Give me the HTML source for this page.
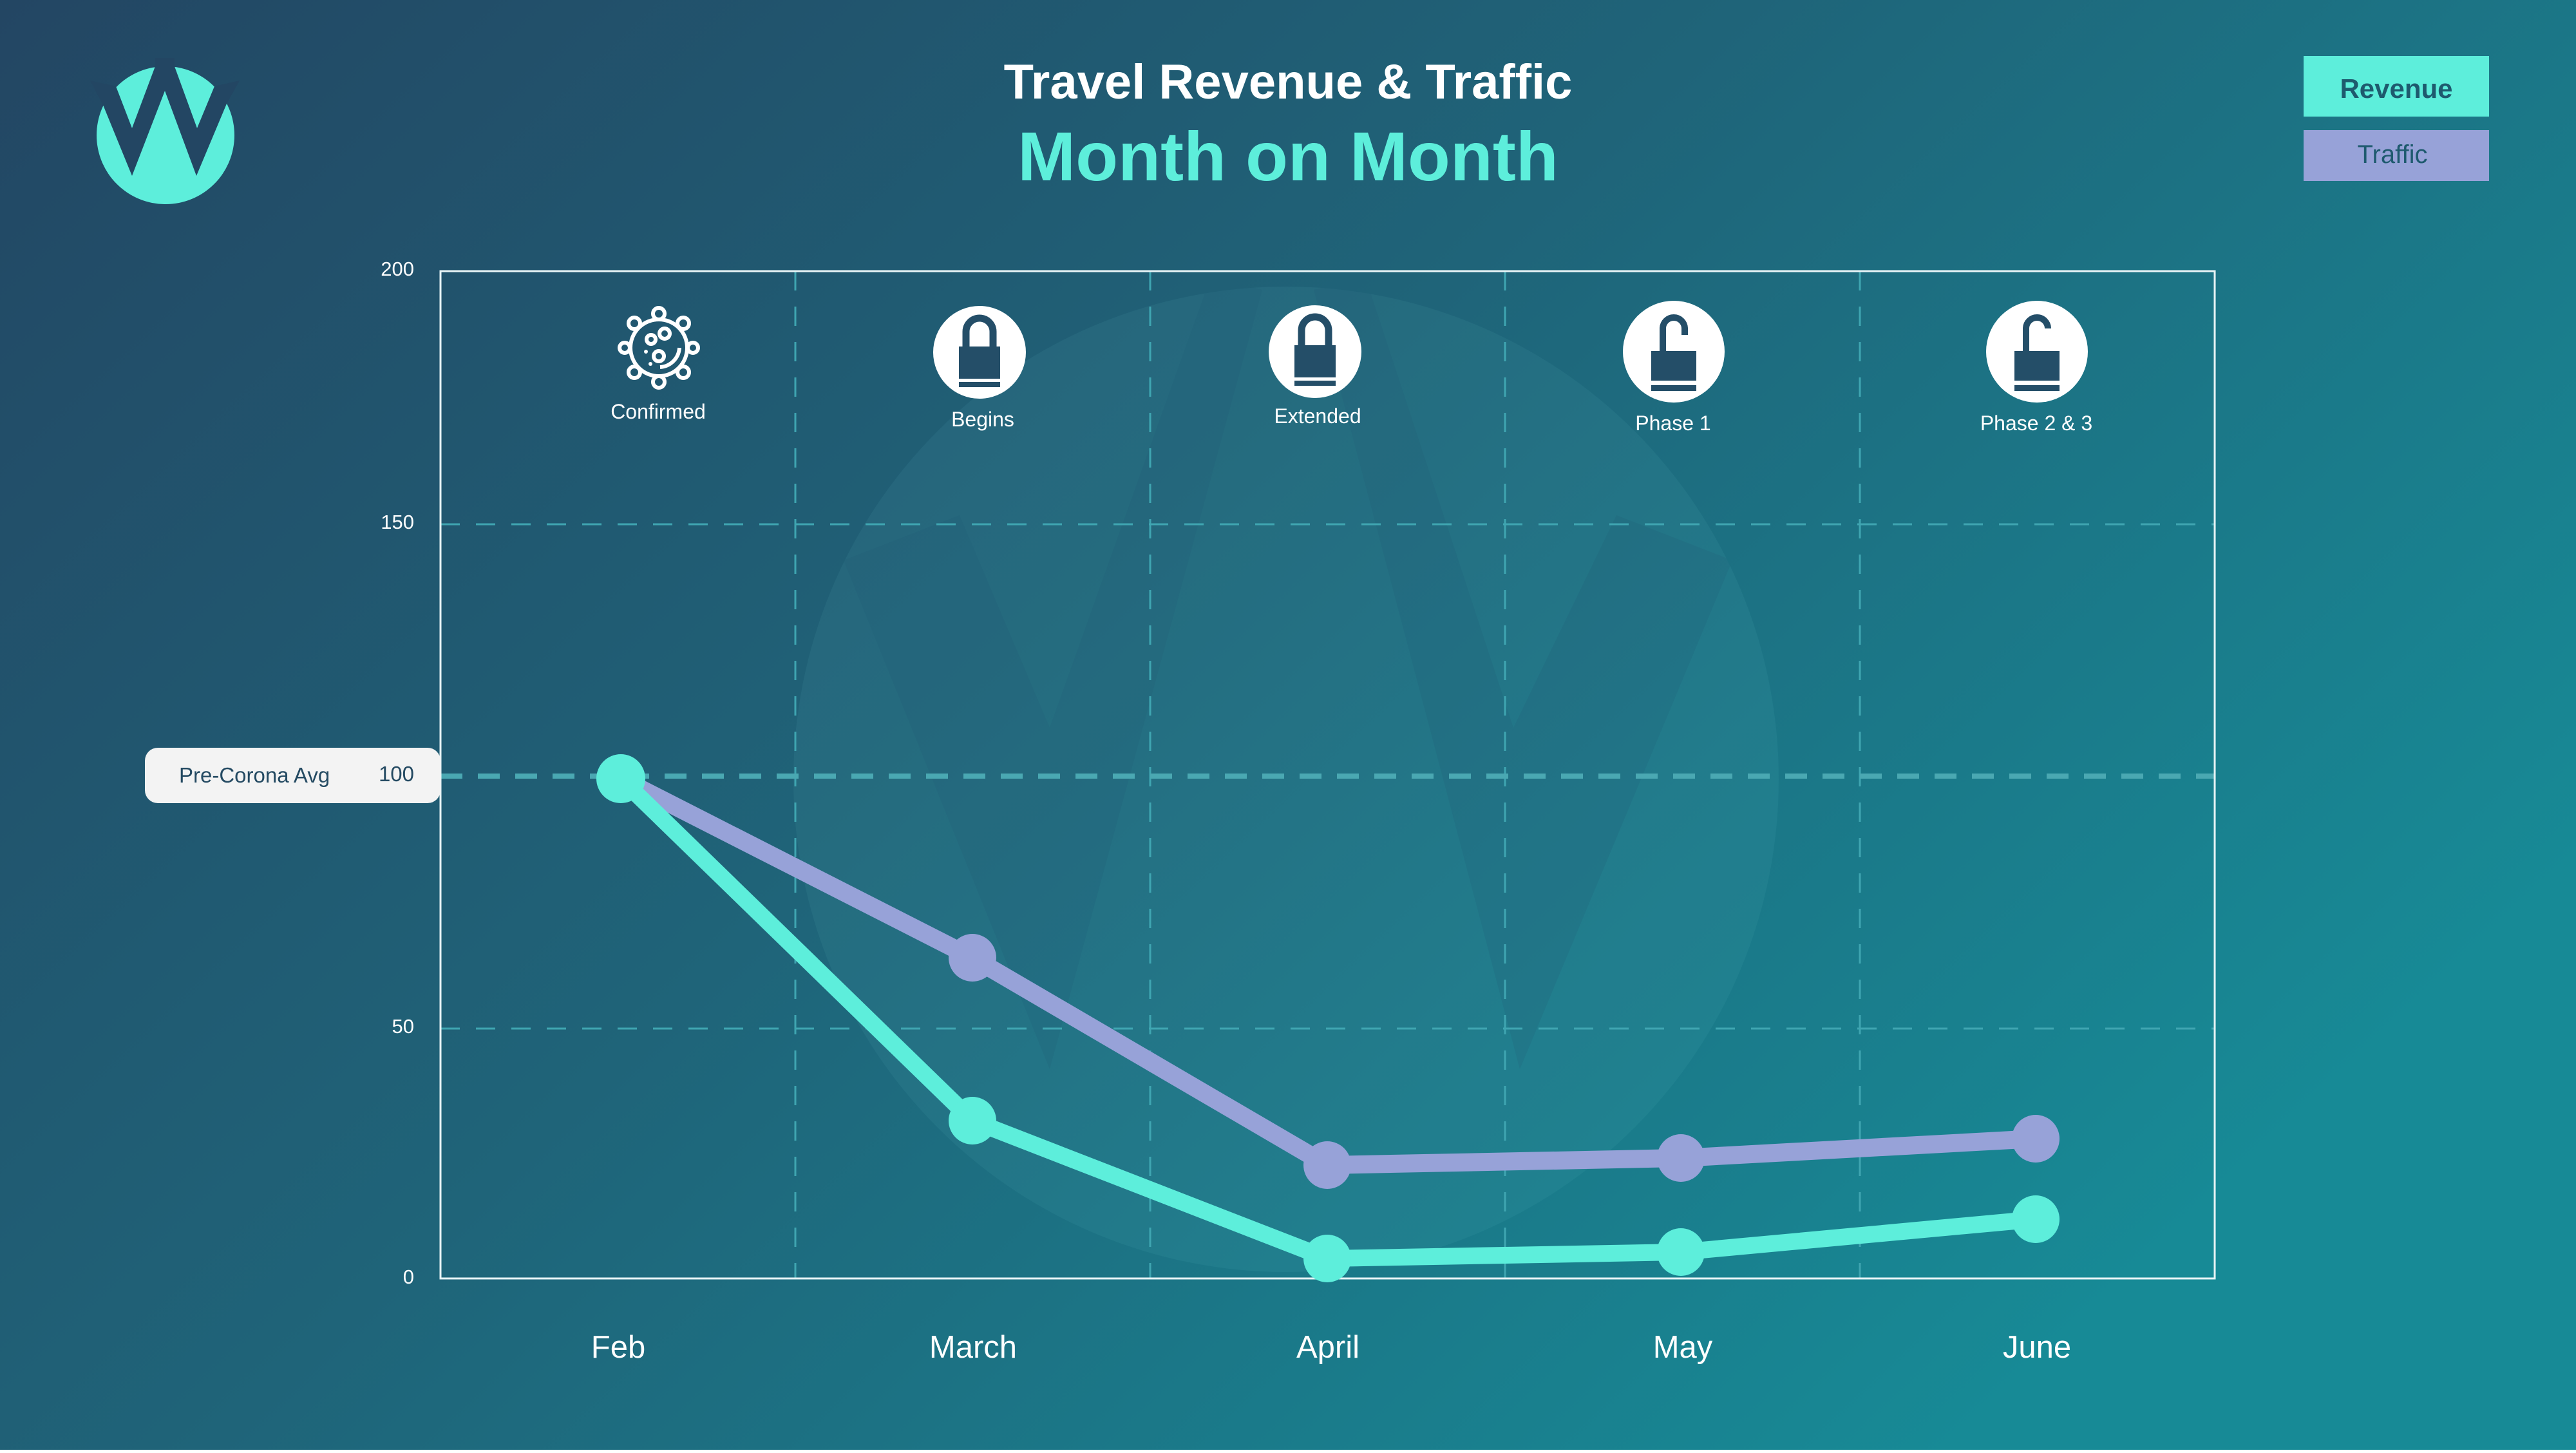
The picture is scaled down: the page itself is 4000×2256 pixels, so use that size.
<!DOCTYPE html>
<html><head><meta charset="utf-8"><style>
html,body{margin:0;padding:0;}
body{width:4000px;height:2251px;overflow:hidden;font-family:"Liberation Sans",sans-serif;}
</style></head><body>
<svg width="4000" height="2251" viewBox="0 0 4000 2251" xmlns="http://www.w3.org/2000/svg">
<defs>
<linearGradient id="bg" x1="0" y1="0" x2="1" y2="0.6">
<stop offset="0" stop-color="#234663"/>
<stop offset="0.5" stop-color="#1f6479"/>
<stop offset="1" stop-color="#178a96"/>
</linearGradient>
<clipPath id="wc"><circle cx="1997" cy="1210" r="765"/></clipPath>
</defs>
<rect width="4000" height="2251" fill="url(#bg)"/>
<!-- watermark -->
<g opacity="0.06" fill="#8fe8f0">
<circle cx="1997" cy="1210" r="765"/>
</g>
<g clip-path="url(#wc)" fill="#1f5a76" opacity="0.18">
<polygon points="1310,870 1630,1660 1960,450 1880,430 1630,1130 1490,800"/>
<polygon points="2040,450 2360,1660 2690,870 2510,800 2350,1130 2120,430"/>
</g>
<!-- logo -->
<circle cx="257" cy="210" r="107" fill="#5deedb"/>
<polygon points="140,125 160,163 205,273 256,141 305,273 352,161 372,125 333,134 306,199 271,103 271,90 241,90 241,103 205,199 180,134" fill="#234663"/>
<!-- titles -->
<text x="2000" y="153" text-anchor="middle" font-size="76" fill="#ffffff" font-weight="bold">Travel Revenue &amp; Traffic</text>
<text x="2000" y="280" text-anchor="middle" font-size="108" fill="#5deedb" font-weight="bold">Month on Month</text>
<!-- legend -->
<rect x="3577" y="87" width="288" height="94" fill="#5deedb"/>
<text x="3721" y="152" text-anchor="middle" font-size="42" fill="#1e5a6e" font-weight="bold">Revenue</text>
<rect x="3577" y="202" width="288" height="79" fill="#97a2d8"/>
<text x="3715" y="253" text-anchor="middle" font-size="40" fill="#1e5a6e">Traffic</text>
<!-- grid -->
<g stroke="#3fa5b1" stroke-width="3" stroke-dasharray="30 25" fill="none">
<line x1="684" y1="814" x2="3439" y2="814"/>
<line x1="684" y1="1597" x2="3439" y2="1597"/>
<line x1="1235" y1="421" x2="1235" y2="1985"/>
<line x1="1786" y1="421" x2="1786" y2="1985"/>
<line x1="2337" y1="421" x2="2337" y2="1985"/>
<line x1="2888" y1="421" x2="2888" y2="1985"/>
</g>
<line x1="684" y1="1205" x2="3439" y2="1205" stroke="#4aa8b2" stroke-width="8" stroke-dasharray="34 24"/>
<rect x="684" y="421" width="2755" height="1564" fill="none" stroke="#e8f4f6" stroke-width="3"/>
<!-- y labels -->
<g font-size="31" fill="#ffffff" text-anchor="end">
<text x="643" y="428">200</text>
<text x="643" y="821">150</text>
<text x="643" y="1604">50</text>
<text x="643" y="1993">0</text>
</g>
<rect x="225" y="1161" width="459" height="86" rx="20" fill="#f3f3f3"/>
<text x="278" y="1215" font-size="33" fill="#244a62">Pre-Corona Avg</text>
<text x="643" y="1213" font-size="33" fill="#244a62" text-anchor="end">100</text>
<!-- series -->
<polyline points="964,1209 1510,1487 2061,1809 2610,1798 3161,1768" fill="none" stroke="#97a2d8" stroke-width="28" stroke-linejoin="round"/>
<polyline points="964,1209 1510,1740 2061,1954 2610,1944 3161,1893" fill="none" stroke="#5deedb" stroke-width="26" stroke-linejoin="round"/>
<g fill="#97a2d8">
<circle cx="1510" cy="1487" r="37"/><circle cx="2061" cy="1809" r="37"/><circle cx="2610" cy="1798" r="37"/><circle cx="3161" cy="1768" r="37"/>
</g>
<g fill="#5deedb">
<circle cx="964" cy="1209" r="38"/><circle cx="1510" cy="1740" r="37"/><circle cx="2061" cy="1954" r="37"/><circle cx="2610" cy="1944" r="37"/><circle cx="3161" cy="1893" r="37"/>
</g>
<!-- x labels -->
<g font-size="49" fill="#ffffff" text-anchor="middle">
<text x="960" y="2108">Feb</text>
<text x="1511" y="2108">March</text>
<text x="2062" y="2108">April</text>
<text x="2613" y="2108">May</text>
<text x="3163" y="2108">June</text>
</g>
<!-- virus icon -->
<g stroke="#ffffff" stroke-width="6" fill="none">
<circle cx="1023" cy="540" r="44"/>
<circle cx="1023" cy="487" r="9"/>
<circle cx="1023" cy="593" r="9"/>
<circle cx="970" cy="540" r="8"/><circle cx="1076" cy="540" r="8"/>
<circle cx="985" cy="502" r="9"/><circle cx="1061" cy="502" r="9"/>
<circle cx="985" cy="578" r="9"/><circle cx="1061" cy="578" r="9"/>
<circle cx="1011" cy="527" r="7"/><circle cx="1032" cy="518" r="8"/><circle cx="1023" cy="553" r="8"/>
<path d="M1055 540 A32 32 0 0 1 1025 570"/>
</g>
<circle cx="1003" cy="546" r="3" fill="#fff"/><circle cx="1010" cy="565" r="3" fill="#fff"/>
<!-- lock icons -->
<g fill="#ffffff">
<circle cx="1521" cy="547" r="72"/>
<circle cx="2042" cy="546" r="72"/>
<circle cx="2599" cy="546" r="79"/>
<circle cx="3163" cy="546" r="79"/>
</g>
<g fill="#244e68" stroke="#244e68">
<rect x="1489" y="538" width="64" height="50" stroke="none"/>
<path d="M1500 540 V515 A21 21 0 0 1 1542 515 V540" fill="none" stroke-width="11"/>
<rect x="1489" y="593" width="64" height="8" stroke="none"/>
<rect x="2010" y="536" width="64" height="50" stroke="none"/>
<path d="M2021 538 V513 A21 21 0 0 1 2063 513 V538" fill="none" stroke-width="11"/>
<rect x="2010" y="591" width="64" height="8" stroke="none"/>
<rect x="2564" y="545" width="70" height="46" stroke="none"/>
<path d="M2582 547 V510 A17 17 0 0 1 2616 510 V520" fill="none" stroke-width="10"/>
<rect x="2564" y="598" width="70" height="9" stroke="none"/>
<rect x="3128" y="545" width="70" height="46" stroke="none"/>
<path d="M3146 547 V510 A17 17 0 0 1 3180 510" fill="none" stroke-width="10"/>
<rect x="3128" y="598" width="70" height="9" stroke="none"/>
</g>
<g font-size="32" fill="#ffffff" text-anchor="middle">
<text x="1022" y="650">Confirmed</text>
<text x="1526" y="662">Begins</text>
<text x="2046" y="657">Extended</text>
<text x="2598" y="668">Phase 1</text>
<text x="3162" y="668">Phase 2 &amp; 3</text>
</g>
</svg>
</body></html>
